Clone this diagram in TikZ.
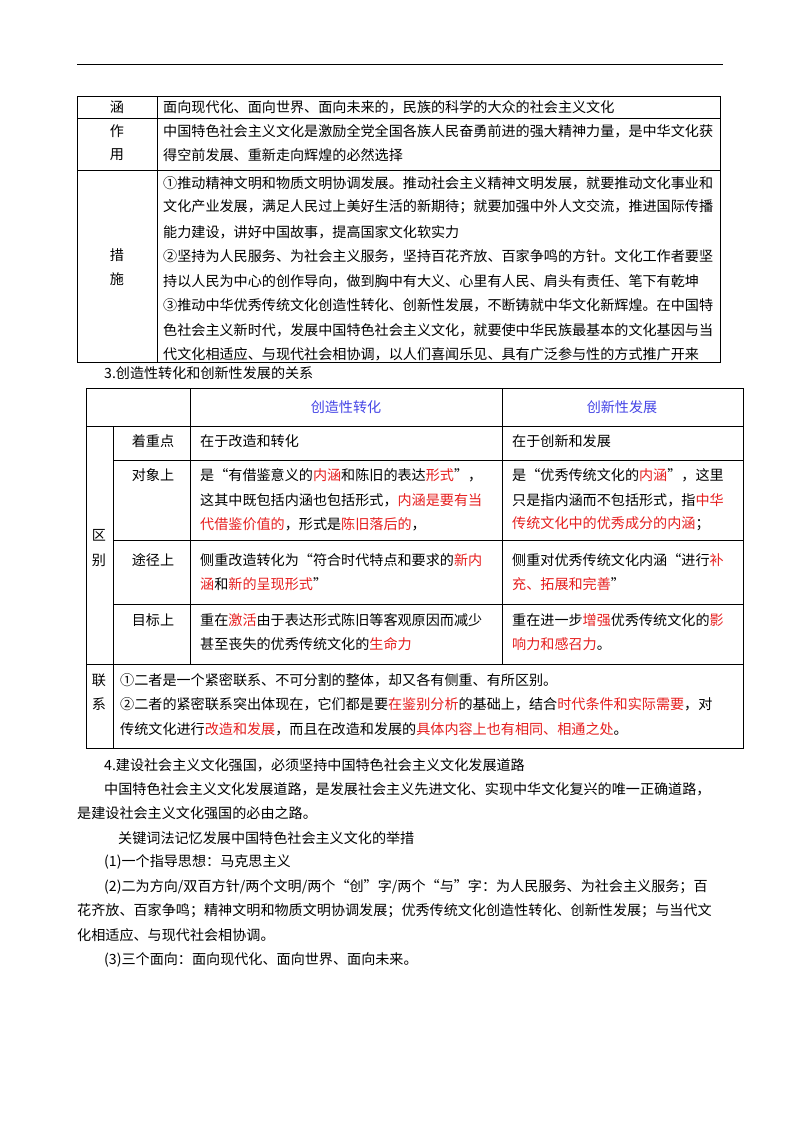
\documentclass[tikz,border=0pt]{standalone}
\usepackage{fontspec}
\setmainfont{Noto Sans CJK SC}
\definecolor{rd}{RGB}{230,30,30}
\definecolor{bl}{RGB}{70,70,230}
\newcommand{\rr}[1]{\textcolor{rd}{#1}}
\begin{document}
\begin{tikzpicture}[x=1pt,y=-1pt,
  t/.style={anchor=west,inner sep=0pt,font=\fontsize{14.1}{16}\selectfont},
  c/.style={anchor=center,inner sep=0pt,font=\fontsize{14.1}{16}\selectfont},
  ln/.style={line width=0.8pt}]
\useasboundingbox[fill=white] (0,0) rectangle (800,1132);
\draw[ln] (77,64) -- (723,64);
% table 1
\draw[ln] (77,96) rectangle (720,362);
\draw[ln] (157,96) -- (157,362);
\draw[ln] (77,118) -- (720,118);
\draw[ln] (77,170) -- (720,170);
\node[c] (h1) at (117,107) {涵};
\node[t] at (163,107) {面向现代化、面向世界、面向未来的，民族的科学的大众的社会主义文化};
\node[c] at (117,131) {作};
\node[c] at (117,155) {用};
\node[t] at (163,131) {中国特色社会主义文化是激励全党全国各族人民奋勇前进的强大精神力量，是中华文化获};
\node[t] at (163,155) {得空前发展、重新走向辉煌的必然选择};
\node[c] at (117,255) {措};
\node[c] at (117,279) {施};
\node[t] at (163,183) {①推动精神文明和物质文明协调发展。推动社会主义精神文明发展，就要推动文化事业和};
\node[t] at (163,207) {文化产业发展，满足人民过上美好生活的新期待；就要加强中外人文交流，推进国际传播};
\node[t] at (163,232) {能力建设，讲好中国故事，提高国家文化软实力};
\node[t] at (163,256) {②坚持为人民服务、为社会主义服务，坚持百花齐放、百家争鸣的方针。文化工作者要坚};
\node[t] at (163,281) {持以人民为中心的创作导向，做到胸中有大义、心里有人民、肩头有责任、笔下有乾坤};
\node[t] at (163,305) {③推动中华优秀传统文化创造性转化、创新性发展，不断铸就中华文化新辉煌。在中国特};
\node[t] at (163,330) {色社会主义新时代，发展中国特色社会主义文化，就要使中华民族最基本的文化基因与当};
\node[t] at (163,354) {代文化相适应、与现代社会相协调，以人们喜闻乐见、具有广泛参与性的方式推广开来};
\node[t] at (104,373) {3.创造性转化和创新性发展的关系};
% table 2
\draw[ln] (86,388) rectangle (743,748);
\draw[ln] (190,388) -- (190,664);
\draw[ln] (502,388) -- (502,664);
\draw[ln] (113,426) -- (113,748);
\draw[ln] (86,426) -- (743,426);
\draw[ln] (113,460) -- (743,460);
\draw[ln] (113,540) -- (743,540);
\draw[ln] (113,604) -- (743,604);
\draw[ln] (86,664) -- (743,664);
\node[c,text=bl] at (346,407) {创造性转化};
\node[c,text=bl] at (622,407) {创新性发展};
\node[c] at (153,441) {着重点};
\node[t] at (200,441) {在于改造和转化};
\node[t] at (512,441) {在于创新和发展};
\node[c] at (153,475) {对象上};
\node[t] at (200,475) {是“有借鉴意义的\rr{内涵}和陈旧的表达\rr{形式}”，};
\node[t] at (200,500) {这其中既包括内涵也包括形式，\rr{内涵是要有当}};
\node[t] at (200,524) {\rr{代借鉴价值的}，形式是\rr{陈旧落后的}，};
\node[t] at (512,475) {是“优秀传统文化的\rr{内涵}”，这里};
\node[t] at (512,500) {只是指内涵而不包括形式，指\rr{中华}};
\node[t] at (512,524) {\rr{传统文化中的优秀成分的内涵}；};
\node[c] at (153,560) {途径上};
\node[t] at (200,560) {侧重改造转化为“符合时代特点和要求的\rr{新内}};
\node[t] at (200,584) {\rr{涵}和\rr{新的呈现形式}”};
\node[t] at (512,560) {侧重对优秀传统文化内涵“进行\rr{补}};
\node[t] at (512,584) {\rr{充、拓展和完善}”};
\node[c] at (153,620) {目标上};
\node[t] at (200,620) {重在\rr{激活}由于表达形式陈旧等客观原因而减少};
\node[t] at (200,644) {甚至丧失的优秀传统文化的\rr{生命力}};
\node[t] at (512,620) {重在进一步\rr{增强}优秀传统文化的\rr{影}};
\node[t] at (512,644) {\rr{响力和感召力}。};
\node[c] at (99,535) {区};
\node[c] at (99,560) {别};
\node[c] at (99,680) {联};
\node[c] at (99,704) {系};
\node[t] at (120,680) {①二者是一个紧密联系、不可分割的整体，却又各有侧重、有所区别。};
\node[t] at (120,704) {②二者的紧密联系突出体现在，它们都是要\rr{在鉴别分析}的基础上，结合\rr{时代条件和实际需要}，对};
\node[t] at (120,729) {传统文化进行\rr{改造和发展}，而且在改造和发展的\rr{具体内容上也有相同、相通之处}。};
% text
\node[t] at (104,765) {4.建设社会主义文化强国，必须坚持中国特色社会主义文化发展道路};
\node[t] at (104,789) {中国特色社会主义文化发展道路，是发展社会主义先进文化、实现中华文化复兴的唯一正确道路，};
\node[t] at (77,813) {是建设社会主义文化强国的必由之路。};
\node[t] at (118,838) {关键词法记忆发展中国特色社会主义文化的举措};
\node[t] at (104,862) {(1)一个指导思想：马克思主义};
\node[t] at (104,887) {(2)二为方向/双百方针/两个文明/两个“创”字/两个“与”字：为人民服务、为社会主义服务；百};
\node[t] at (77,911) {花齐放、百家争鸣；精神文明和物质文明协调发展；优秀传统文化创造性转化、创新性发展；与当代文};
\node[t] at (77,935) {化相适应、与现代社会相协调。};
\node[t] at (104,960) {(3)三个面向：面向现代化、面向世界、面向未来。};
\end{tikzpicture}
\end{document}
